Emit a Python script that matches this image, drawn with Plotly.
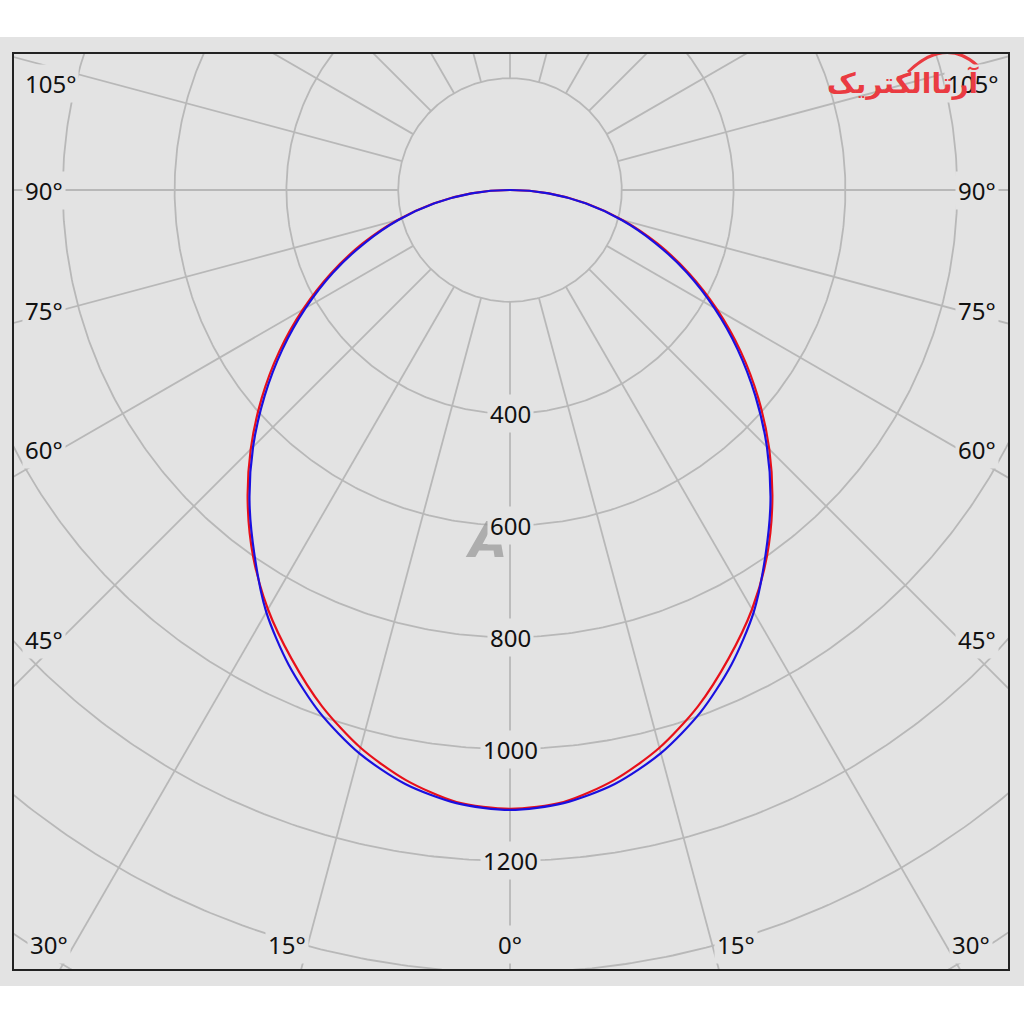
import numpy as np
import plotly.graph_objects as go

# ---------------- data ----------------
angles_deg = [0, 5, 10, 15, 20, 25, 30, 35, 40, 45, 50, 55, 60, 65, 70, 75, 80, 85, 90]
red_cd = [1107, 1099, 1072, 1033, 983, 925, 866, 801, 730, 656, 580, 504, 428, 354, 281, 209, 139, 70, 0]
blue_cd = [1109, 1101, 1079, 1043, 995, 937, 872, 797, 725, 650, 573, 497, 422, 349, 276, 206, 137, 69, 0]

ring_values = [200, 400, 600, 800, 1000, 1200, 1400, 1600, 1800, 2000]
ring_labels = [400, 600, 800, 1000, 1200]
spoke_angles = list(range(0, 360, 15))

angle_label_text = ["105°", "90°", "75°", "60°", "45°", "30°", "15°", "0°",
                    "15°", "30°", "45°", "60°", "75°", "90°", "105°"]

# ---------------- layout geometry (pixels) ----------------
W = H = 1024
FRAME_L, FRAME_R, FRAME_T, FRAME_B = 13, 1009, 53, 970
CX, CY = 510, 190            # pole position in pixels
K = 111.8 / 200.0            # pixels per cd

def dx(px):
    return (px - CX) / K

def dy(py):
    return (CY - py) / K

angle_label_px = [(50, 83), (44, 190), (44, 310), (44, 449), (44, 639), (49, 944),
                  (287, 944), (510, 944), (736, 944), (971, 944), (977, 639),
                  (977, 449), (977, 310), (977, 190), (972, 83)]

BG = "#e3e3e3"
GRID = "#b8b8b8"
FONT = "Noto Sans, Liberation Sans, DejaVu Sans, sans-serif"
FS = 24

fig = go.Figure()

# rings
rx, ry = [], []
t = np.radians(np.linspace(0, 360, 721))
for r in ring_values:
    rx += list(r * np.sin(t)) + [None]
    ry += list(-r * np.cos(t)) + [None]
fig.add_trace(go.Scatter(x=rx, y=ry, mode="lines", line=dict(color=GRID, width=1.8),
                         hoverinfo="skip", showlegend=False))

# spokes (start at the first ring)
sx, sy = [], []
for a in spoke_angles:
    ar = np.radians(a)
    sx += [ring_values[0] * np.sin(ar), ring_values[-1] * 1.2 * np.sin(ar), None]
    sy += [-ring_values[0] * np.cos(ar), -ring_values[-1] * 1.2 * np.cos(ar), None]
fig.add_trace(go.Scatter(x=sx, y=sy, mode="lines", line=dict(color=GRID, width=1.8),
                         hoverinfo="skip", showlegend=False))

# watermark (under the curves and labels)
fig.add_annotation(x=dx(486), y=dy(540), xref="x", yref="y", text="A", showarrow=False,
                   font=dict(family="DejaVu Sans", size=50, color="rgba(150,150,150,0.7)",
                             weight="bold", style="italic"))

# intensity curves (mirrored for left half)
def curve(vals):
    ang = [-a for a in angles_deg[::-1]] + angles_deg[1:]
    v = vals[::-1] + vals[1:]
    ar = np.radians(ang)
    return list(np.array(v) * np.sin(ar)), list(-np.array(v) * np.cos(ar))

for vals, col in [(red_cd, "#e8101a"), (blue_cd, "#1a10e0")]:
    x, y = curve(vals)
    fig.add_trace(go.Scatter(x=x, y=y, mode="lines",
                             line=dict(color=col, width=2.2, shape="spline", smoothing=0.8),
                             hoverinfo="skip", showlegend=False))

# ring value labels
for v in ring_labels:
    fig.add_annotation(x=0, y=-v, xref="x", yref="y", text=str(v), showarrow=False,
                       font=dict(family=FONT, size=FS, color="#111"), bgcolor=BG, borderpad=2,
                       xanchor="center", yanchor="middle")
# angle labels
for txt, (px, py) in zip(angle_label_text, angle_label_px):
    fig.add_annotation(x=dx(px), y=dy(py), xref="x", yref="y", text=txt, showarrow=False,
                       font=dict(family=FONT, size=FS, color="#111"), bgcolor=BG, borderpad=2,
                       xanchor="center", yanchor="middle")
# logo
fig.add_annotation(x=dx(903), y=dy(83), xref="x", yref="y", text="آرتاالکتریک", showarrow=False,
                   font=dict(family="DejaVu Sans", size=28, color="#ea3b41", weight="bold"))

shapes = [
    dict(type="rect", xref="paper", yref="paper",
         x0=-FRAME_L / (FRAME_R - FRAME_L), x1=(W - FRAME_L) / (FRAME_R - FRAME_L),
         y0=(FRAME_B - 986) / (FRAME_B - FRAME_T), y1=(FRAME_B - 37) / (FRAME_B - FRAME_T),
         fillcolor=BG, line=dict(width=0), layer="below"),
    dict(type="path", xref="x", yref="y",
         path=f"M {dx(908)},{dy(72)} Q {dx(945)},{dy(36)} {dx(978)},{dy(66)}",
         line=dict(color="#ea3b41", width=3)),
    dict(type="rect", xref="paper", yref="paper", x0=0, x1=1, y0=0, y1=1,
         line=dict(color="#222", width=2), fillcolor="rgba(0,0,0,0)", layer="above"),
]

fig.update_layout(
    width=W, height=H,
    margin=dict(l=FRAME_L, r=W - FRAME_R, t=FRAME_T, b=H - FRAME_B, pad=0),
    paper_bgcolor="white", plot_bgcolor=BG,
    xaxis=dict(range=[dx(FRAME_L), dx(FRAME_R)], showgrid=False, zeroline=False,
               showticklabels=False, ticks="", fixedrange=True),
    yaxis=dict(range=[dy(FRAME_B), dy(FRAME_T)], showgrid=False, zeroline=False,
               showticklabels=False, ticks="", fixedrange=True),
    shapes=shapes, showlegend=False,
)

fig.write_html("out.html", config={"displayModeBar": False},
               post_script="document.body.style.margin='0';")
